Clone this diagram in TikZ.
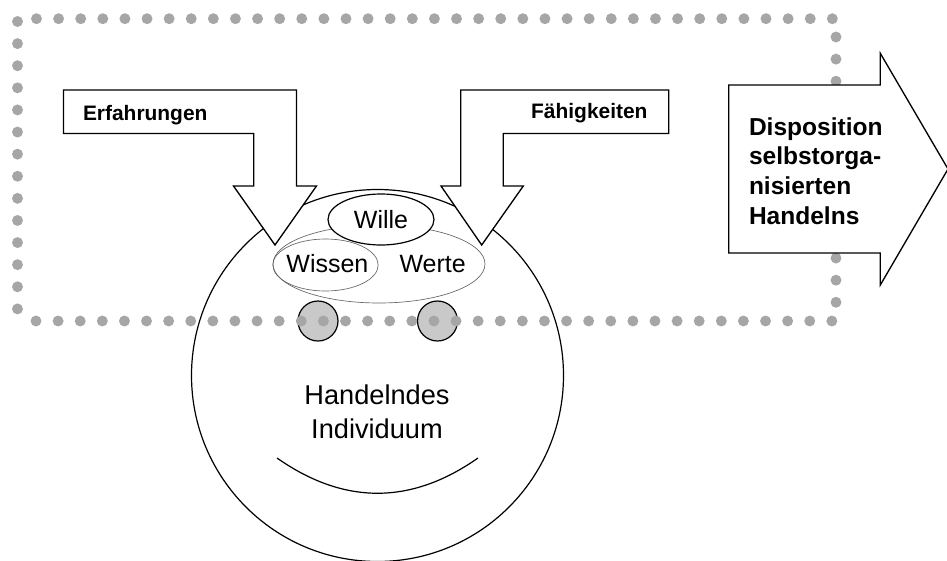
\documentclass[tikz,border=0pt]{standalone}
\usepackage{fontspec}
\setmainfont{Liberation Sans}
\usetikzlibrary{shapes.geometric}
\tikzset
{
	face/.style = {circle, draw=black, line width=0.9pt, inner sep=0, outer sep=0, minimum size=279pt},
	eye/.style = {circle, draw=black, line width=0.9pt, fill=black!21, inner sep=0, outer sep=0, minimum size=30pt},
	thinring/.style = {ellipse, draw=black!60, line width=0.5pt, inner sep=0, outer sep=0},
	willring/.style = {ellipse, draw=black, fill=white, line width=0.9pt, inner sep=0, outer sep=0, minimum width=79.5pt, minimum height=38.25pt},
	dotrow/.style = {draw=black!35, line width=8.2pt, line cap=round, dash pattern=on 0pt off 16.58pt},
	block/.style = {draw=black, fill=white, line width=1pt, line join=miter},
	plain/.style = {inner sep=0, outer sep=0, font=\fontsize{18.75pt}{22pt}\selectfont},
	boldlabel/.style = {inner sep=0, outer sep=0, font=\fontsize{15.7pt}{19pt}\selectfont\bfseries}
}

\begin{document}
\begin{tikzpicture}[x=0.75pt, y=-0.75pt]
\useasboundingbox (0,0) rectangle (947,561);
% head
\node[face] (head) at (377.5,375.5) {};
\node[eye] (lefteye) at (318,321) {};
\node[eye] (righteye) at (437.5,321) {};
\coordinate (mouthl) at (277,458);
\coordinate (mouthr) at (478,458);
\draw[line width=0.9pt] (mouthl) .. controls (344,505) and (411,505) .. (mouthr);
% dotted frame
\coordinate (topa) at (36.5,18.7);
\coordinate (topb) at (834,18.7);
\coordinate (lefta) at (17.5,21.5);
\coordinate (leftb) at (17.5,311);
\coordinate (righta) at (836,37);
\coordinate (rightb) at (836,304);
\coordinate (bota) at (36,321);
\coordinate (botb) at (833,321);
\draw[dotrow] (topa) -- (topb);
\draw[dotrow] (lefta) -- (leftb);
\draw[dotrow] (righta) -- (rightb);
\draw[dotrow] (bota) -- (botb);
% inside the head
\node[thinring, minimum width=159pt, minimum height=58.5pt] (werte) at (379,264) {};
\node[thinring, minimum width=79pt, minimum height=39pt] (wissen) at (325.5,265) {};
\node[willring] (wille) at (381,219.5) {};
\node[plain, anchor=base] (willetext) at (381,228.5) {Wille};
\node[plain, anchor=base] (wissentext) at (327.4,272.5) {Wissen};
\node[plain, anchor=base west] (wertetext) at (399.5,272.5) {Werte};
\node[plain, font=\fontsize{20.4pt}{25.5pt}\selectfont, align=center] (individuum) at (377,412) {Handelndes\\Individuum};
% arrows
\draw[block] (63.5,90) -- (296.5,90) -- (296.5,186) -- (316.5,186) -- (275,245) -- (233.5,186) -- (253.7,186) -- (253.7,133.5) -- (63.5,133.5) -- cycle;
\draw[block] (668.7,90) -- (460.7,90) -- (460.7,186) -- (441,186) -- (481.7,245) -- (523.3,186) -- (503.3,186) -- (503.3,133.5) -- (668.7,133.5) -- cycle;
\draw[block] (728.7,85) -- (880.3,85) -- (880.3,53.3) -- (948,169) -- (880.3,285) -- (880.3,253) -- (728.7,253) -- cycle;
\node[boldlabel, anchor=base west] (erfahrungen) at (83,120) {Erfahrungen};
\node[boldlabel, anchor=base east] (faehigkeiten) at (647.5,118.5) {Fähigkeiten};
\node[boldlabel, font=\fontsize{18.4pt}{22.3pt}\selectfont\bfseries, align=left, anchor=west] (disposition) at (749,171) {Disposition\\selbstorga-\\nisierten\\Handelns};
\end{tikzpicture}
\end{document}
